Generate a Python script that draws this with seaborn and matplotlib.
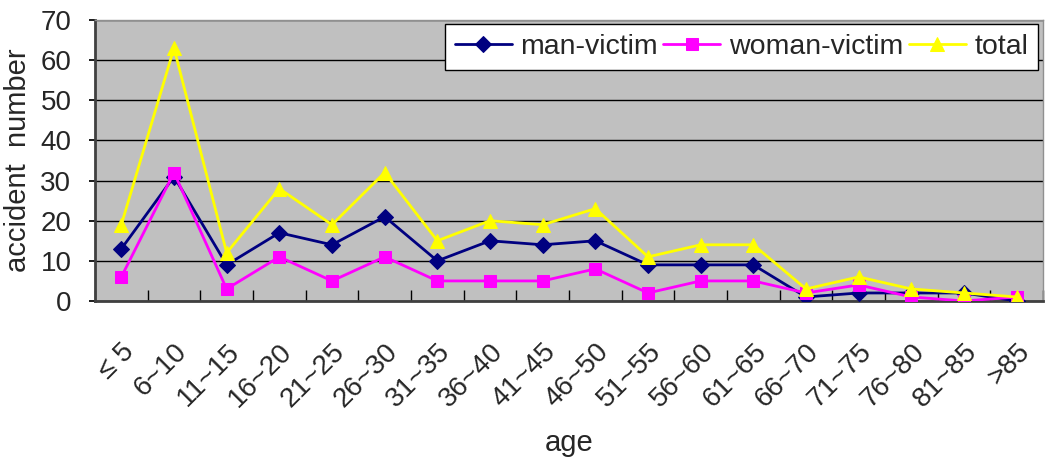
import matplotlib
matplotlib.use("Agg")
import matplotlib.pyplot as plt
import seaborn as sns
import pandas as pd
import numpy as np

categories = ["≤ 5", "6~10", "11~15", "16~20", "21~25", "26~30", "31~35", "36~40",
              "41~45", "46~50", "51~55", "56~60", "61~65", "66~70", "71~75", "76~80",
              "81~85", ">85"]
man_victim = [13, 31, 9, 17, 14, 21, 10, 15, 14, 15, 9, 9, 9, 1, 2, 2, 2, 0]
woman_victim = [6, 32, 3, 11, 5, 11, 5, 5, 5, 8, 2, 5, 5, 2, 4, 1, 0, 1]
total = [19, 63, 12, 28, 19, 32, 15, 20, 19, 23, 11, 14, 14, 3, 6, 3, 2, 1]
series_names = ["man-victim", "woman-victim", "total"]

sns.set_theme(style="white")
plt.rcParams['font.family'] = ['Liberation Sans', 'DejaVu Sans']

rows = []
for name, vals in zip(series_names, [man_victim, woman_victim, total]):
    for i, v in enumerate(vals):
        rows.append({"pos": i, "age": categories[i], "series": name, "value": v})
df = pd.DataFrame(rows)

fig = plt.figure(figsize=(10.46, 4.61), dpi=100)
ax = fig.add_axes([95/1046, 1 - 301/461, (1043-95)/1046, (301-20)/461])
ax.set_facecolor("#C0C0C0")

palette = {"man-victim": "#000080", "woman-victim": "#FF00FF", "total": "#FFFF00"}
markers = {"man-victim": "D", "woman-victim": "s", "total": "^"}
sizes = {"man-victim": 8, "woman-victim": 9, "total": 10}
for name in series_names:
    sub = df[df.series == name]
    sns.lineplot(data=sub, x="pos", y="value", color=palette[name], marker=markers[name],
                 markersize=sizes[name], markeredgecolor=palette[name], linewidth=2,
                 label=name, ax=ax, sort=False, zorder=3)

ax.set_xlim(-0.5, len(categories) - 0.5)
ax.set_ylim(0, 70)
ax.set_yticks(range(0, 71, 10))
ax.yaxis.grid(True, color="black", linewidth=1)
ax.xaxis.grid(False)
ax.set_axisbelow(True)

ax.set_xticks(np.arange(len(categories)))
ax.set_xticklabels(categories, rotation=45, ha="right", rotation_mode="anchor", fontsize=20)
ax.set_xticks(np.arange(len(categories) + 1) - 0.5, minor=True)
ax.tick_params(axis="x", which="major", length=0, pad=27)
ax.tick_params(axis="x", which="minor", direction="in", length=8, color="black", width=1, bottom=True)
ax.tick_params(axis="y", labelsize=20, length=4, direction="out", color="black", left=True, pad=13)

for s in ["left", "bottom"]:
    ax.spines[s].set_color("#404040")
    ax.spines[s].set_linewidth(2)
for s in ["top", "right"]:
    ax.spines[s].set_color("#909090")
    ax.spines[s].set_linewidth(1)

ax.set_xlabel("age", fontsize=21, labelpad=12)
ax.set_ylabel("accident  number", fontsize=21, labelpad=6)

leg = ax.legend(loc="upper right", ncol=3, fontsize=20.5, frameon=True, fancybox=False,
                edgecolor="black", framealpha=1, handlelength=2.0, handletextpad=0.3,
                columnspacing=0.2, borderpad=0.35, borderaxespad=0.1,
                bbox_to_anchor=(0.998, 0.995))
leg.get_frame().set_linewidth(1)

fig.savefig("out.png", dpi=100)
